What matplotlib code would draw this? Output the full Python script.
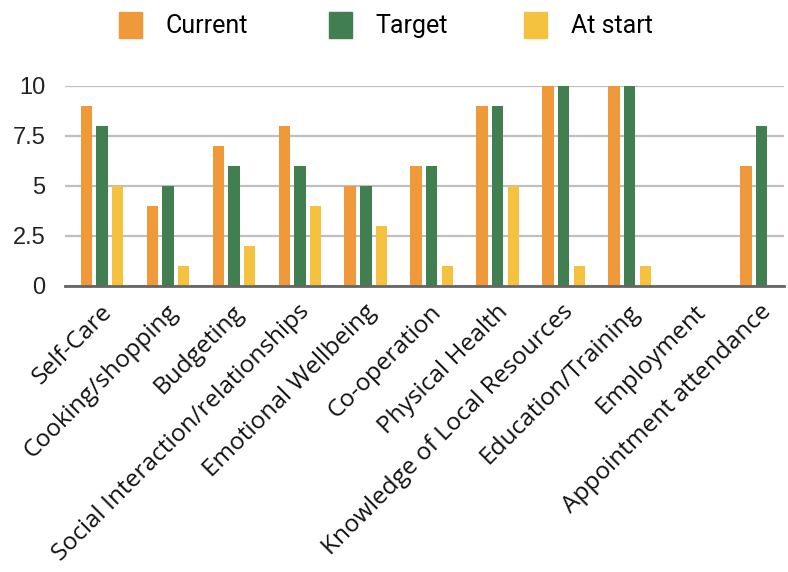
import matplotlib.pyplot as plt
import numpy as np
from matplotlib.patches import Patch

categories = ['Self-Care', 'Cooking/shopping', 'Budgeting', 'Social Interaction/relationships',
              'Emotional Wellbeing', 'Co-operation', 'Physical Health',
              'Knowledge of Local Resources', 'Education/Training', 'Employment',
              'Appointment attendance']
current = [9, 4, 7, 8, 5, 6, 9, 10, 10, 0, 6]
target = [8, 5, 6, 6, 5, 6, 9, 10, 10, 0, 8]
at_start = [5, 1, 2, 4, 3, 1, 5, 1, 1, 0, 0]
yticks = [0, 2.5, 5, 7.5, 10]
ytick_labels = ['0', '2.5', '5', '7.5', '10']
series_names = ['Current', 'Target', 'At start']

c_cur = '#F0993A'
c_tgt = '#417F50'
c_start = '#F4C23E'

fig = plt.figure(figsize=(7.88, 5.72), dpi=100)
ax = fig.add_axes([65 / 788, 1 - 286 / 572, 719 / 788, 200 / 572])

x = np.arange(len(categories))
off = 0.238
w = 0.172
ax.bar(x - off, current, w, color=c_cur, zorder=3)
ax.bar(x, target, w, color=c_tgt, zorder=3)
ax.bar(x + off, at_start, w, color=c_start, zorder=3)

ax.set_xlim(-0.561, 10.34)
ax.set_ylim(0, 10)
ax.set_yticks(yticks)
ax.set_yticklabels(ytick_labels, fontsize=17, family='Liberation Sans', color='#222222')
ax.yaxis.grid(True, color='#bfbfbf', linewidth=1.6, zorder=0)
ax.tick_params(axis='y', length=0, pad=14)
ax.tick_params(axis='x', length=0, pad=10)
for s in ['top', 'right', 'left']:
    ax.spines[s].set_visible(False)
ax.spines['bottom'].set_color('#666666')
ax.spines['bottom'].set_linewidth(2)
ax.spines['bottom'].set_zorder(4)

ax.set_xticks(x - 0.03)
ax.set_xticklabels(categories, rotation=45, ha='right', rotation_mode='anchor',
                   fontsize=17.6, family='Open Sans', color='#111111')

# one small legend per series, so each key sits where it does in the original
legend_x = [119, 329, 524]
for name, col, lx in zip(series_names, [c_cur, c_tgt, c_start], legend_x):
    leg = fig.legend(handles=[Patch(color=col, label=name)], loc='center left',
                     bbox_to_anchor=(lx / 788, 1 - 25 / 572), frameon=False,
                     borderpad=0, borderaxespad=0,
                     prop={'family': 'Roboto', 'size': 18},
                     handlelength=0.92, handleheight=1.2, handletextpad=0.95)

fig.savefig('out.png', dpi=100)
